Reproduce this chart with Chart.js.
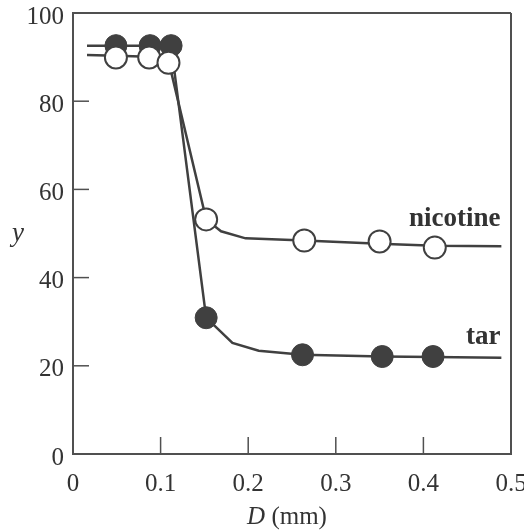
<!DOCTYPE html>
<html>
<head>
<meta charset="utf-8">
<script src="https://cdn.jsdelivr.net/npm/chart.js@4/dist/chart.umd.min.js"></script>
<style>
  html, body { margin: 0; padding: 0; background: #fff; }
  #wrap { width: 524px; height: 532px; }
</style>
</head>
<body>
<div id="wrap"><canvas id="chart"></canvas></div>
<script>
// markers (measured points)
const tarX = [0.049, 0.088, 0.112, 0.152, 0.262, 0.353, 0.411];
const tarY = [92.6, 92.6, 92.6, 30.9, 22.5, 22.1, 22.1];
const nicX = [0.049, 0.087, 0.109, 0.152, 0.264, 0.350, 0.413];
const nicY = [89.9, 89.9, 88.7, 53.2, 48.4, 48.2, 46.8];

// fitted curves
const tarCurveX = [0.016, 0.049, 0.088, 0.112, 0.152, 0.182, 0.212, 0.262, 0.353, 0.411, 0.489];
const tarCurveY = [92.6, 92.6, 92.6, 92.6, 30.9, 25.2, 23.4, 22.5, 22.1, 22.0, 21.8];
const nicCurveX = [0.016, 0.049, 0.087, 0.109, 0.152, 0.169, 0.197, 0.264, 0.350, 0.413, 0.489];
const nicCurveY = [90.5, 90.3, 90.1, 89.2, 53.2, 50.5, 48.9, 48.4, 47.7, 47.2, 47.1];

const xTicks = [0, 0.1, 0.2, 0.3, 0.4, 0.5];
const yTicks = [0, 20, 40, 60, 80, 100];

const ink = '#404040';
const frameInk = '#505050';
const textInk = '#333333';
const serif = "'Liberation Serif', 'DejaVu Serif', serif";

const toPts = (xs, ys) => xs.map((x, i) => ({ x: x, y: ys[i] }));

function seg(ctx, x1, y1, x2, y2) {
    ctx.beginPath();
    ctx.moveTo(x1, y1);
    ctx.lineTo(x2, y2);
    ctx.stroke();
}

const framePlugin = {
    id: 'frame',
    afterDraw(chart) {
        const ctx = chart.ctx;
        const xs = chart.scales.x, ys = chart.scales.y;
        const left = xs.getPixelForValue(0);
        const bottom = ys.getPixelForValue(0);
        ctx.save();
        ctx.strokeStyle = frameInk;
        // inner ticks
        ctx.lineWidth = 1.5;
        xTicks.slice(1, -1).forEach(v => {
            const px = xs.getPixelForValue(v);
            seg(ctx, px, bottom, px, bottom - 17);
        });
        yTicks.slice(1, -1).forEach(v => {
            const py = ys.getPixelForValue(v);
            seg(ctx, left, py, left + 16, py);
        });

        // series labels
        ctx.fillStyle = textInk;
        ctx.font = 'bold 27px ' + serif;
        ctx.textAlign = 'right';
        ctx.textBaseline = 'alphabetic';
        ctx.fillText('nicotine', xs.getPixelForValue(0.488), ys.getPixelForValue(51.6));
        ctx.fillText('tar', xs.getPixelForValue(0.488), ys.getPixelForValue(25.0));

        // axis titles
        ctx.textBaseline = 'middle';
        ctx.textAlign = 'center';
        ctx.font = 'italic 27px ' + serif;
        ctx.fillText('y', 18, 234);

        const italicPart = 'D';
        const plainPart = ' (mm)';
        ctx.font = 'italic 25px ' + serif;
        const w1 = ctx.measureText(italicPart).width;
        ctx.font = '25px ' + serif;
        const w2 = ctx.measureText(plainPart).width;
        const startX = 287 - (w1 + w2) / 2;
        const titleY = 517;
        ctx.textAlign = 'left';
        ctx.font = 'italic 25px ' + serif;
        ctx.fillText(italicPart, startX, titleY);
        ctx.font = '25px ' + serif;
        ctx.fillText(plainPart, startX + w1, titleY);
        ctx.restore();
    }
};

const ctx = document.getElementById('chart').getContext('2d');
new Chart(ctx, {
    type: 'scatter',
    data: {
        datasets: [
            {
                label: 'nicotine',
                data: toPts(nicX, nicY),
                showLine: false,
                pointRadius: 11,
                pointBackgroundColor: '#ffffff',
                pointBorderColor: ink,
                pointBorderWidth: 2
            },
            {
                label: 'tar',
                data: toPts(tarX, tarY),
                showLine: false,
                pointRadius: 11,
                pointBackgroundColor: ink,
                pointBorderColor: ink,
                pointBorderWidth: 1
            },
            {
                label: 'nicotine curve',
                data: toPts(nicCurveX, nicCurveY),
                showLine: true,
                borderColor: ink,
                borderWidth: 2.5,
                pointRadius: 0,
                tension: 0
            },
            {
                label: 'tar curve',
                data: toPts(tarCurveX, tarCurveY),
                showLine: true,
                borderColor: ink,
                borderWidth: 2.5,
                pointRadius: 0,
                tension: 0
            }
        ]
    },
    options: {
        responsive: true,
        maintainAspectRatio: false,
        animation: false,
        layout: { padding: { top: 10, right: 12, left: 0, bottom: 0 } },
        plugins: {
            legend: { display: false },
            tooltip: { enabled: false }
        },
        scales: {
            x: {
                type: 'linear',
                min: 0,
                max: 0.5,
                afterFit(scale) {
                    scale.height = 78;
                    scale.paddingLeft = 0;
                    scale.paddingRight = 0;
                },
                afterBuildTicks(scale) { scale.ticks = xTicks.map(v => ({ value: v })); },
                grid: {
                    display: true,
                    drawTicks: false,
                    lineWidth: 2,
                    color: c => (c.tick && c.tick.value === 0.5) ? frameInk : 'rgba(0,0,0,0)'
                },
                border: { display: true, color: frameInk, width: 2 },
                ticks: {
                    padding: 15,
                    color: textInk,
                    font: { family: serif, size: 25 },
                    callback: v => String(v)
                }
            },
            y: {
                type: 'linear',
                min: 0,
                max: 100,
                afterFit(scale) {
                    scale.width = 73;
                    scale.paddingTop = 0;
                    scale.paddingBottom = 0;
                },
                afterBuildTicks(scale) { scale.ticks = yTicks.map(v => ({ value: v })); },
                grid: {
                    display: true,
                    drawTicks: false,
                    lineWidth: 2,
                    color: c => (c.tick && c.tick.value === 100) ? frameInk : 'rgba(0,0,0,0)'
                },
                border: { display: true, color: frameInk, width: 2 },
                ticks: {
                    padding: 9,
                    labelOffset: 4,
                    color: textInk,
                    font: { family: serif, size: 25 },
                    callback: v => String(v)
                }
            }
        }
    },
    plugins: [framePlugin]
});
</script>
</body>
</html>
